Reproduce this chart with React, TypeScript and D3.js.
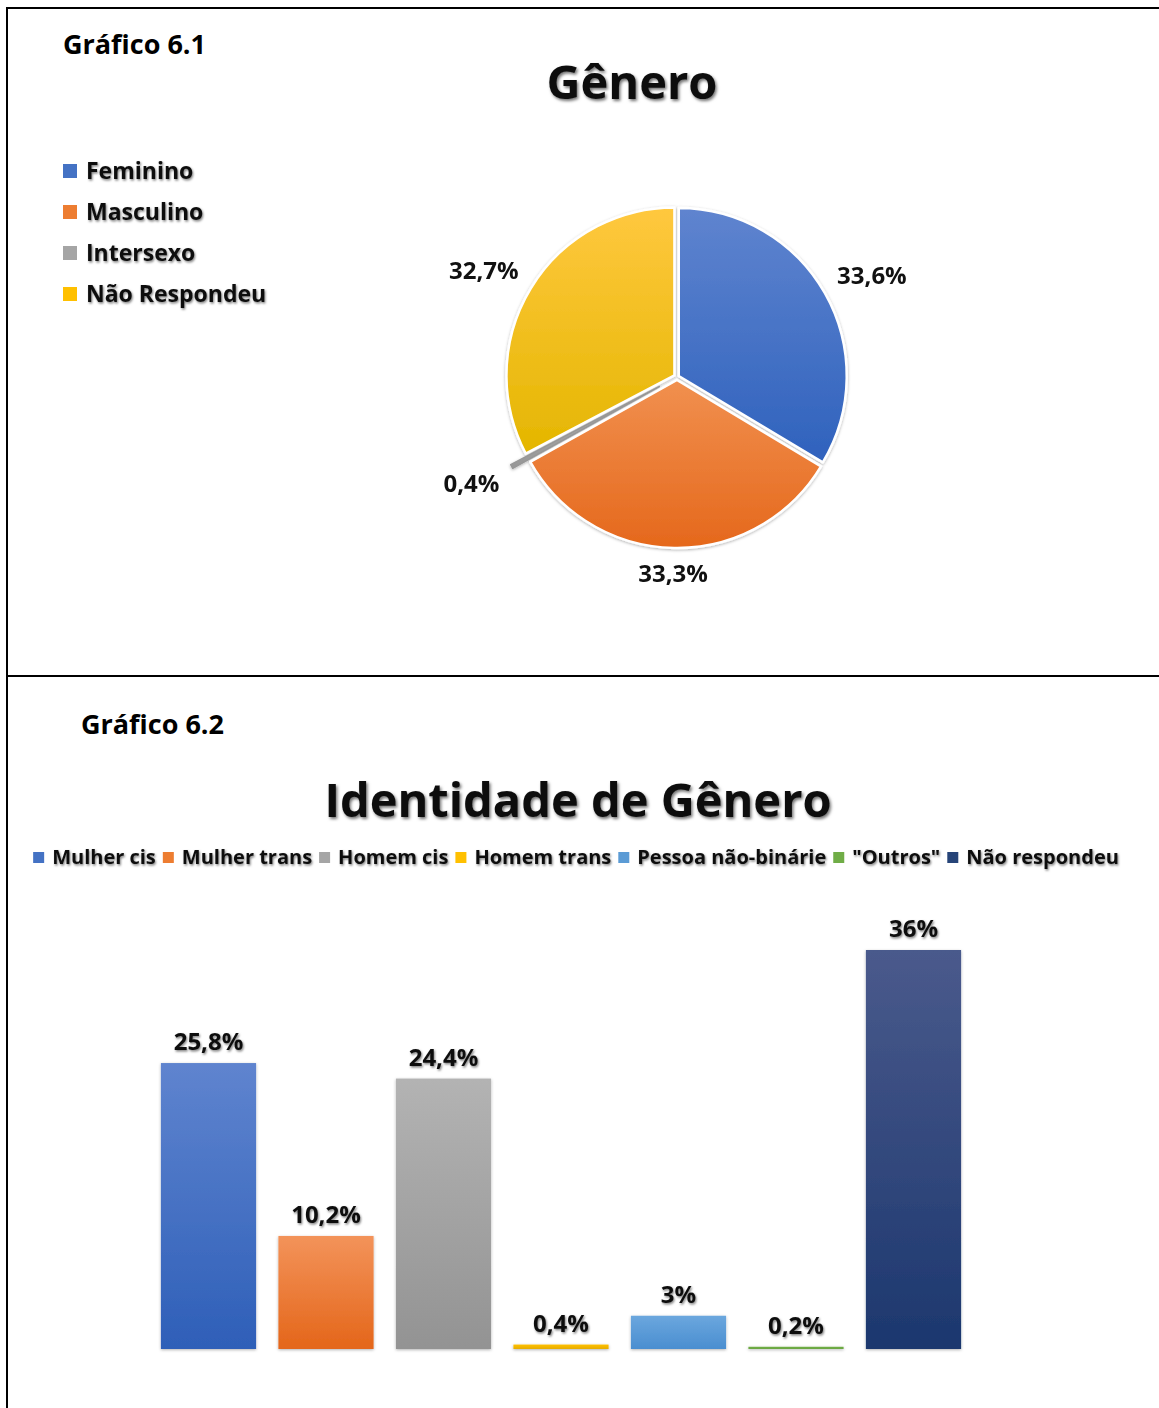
import React from "react";
import * as d3 from "d3";

const pieCategories = ["Feminino", "Masculino", "Intersexo", "Não Respondeu"];
const pieValues = [33.6, 33.3, 0.4, 32.7];
const pieLabels = ["33,6%", "33,3%", "0,4%", "32,7%"];
const pieColors = ["#4472c4", "#ed7d31", "#a5a5a5", "#ffc000"];
const pieGradTop = ["#5f84cf", "#f1904f", "#b0b0b0", "#ffc83f"];
const pieGradBottom = ["#2f62bd", "#e5681c", "#979797", "#e4b600"];
const pieExplode = [2, 3, 20, 3];

const barCategories = ["Mulher cis", "Mulher trans", "Homem cis", "Homem trans", "Pessoa não-binárie", "\"Outros\"", "Não respondeu"];
const barValues = [25.8, 10.2, 24.4, 0.4, 3, 0.2, 36];
const barLabels = ["25,8%", "10,2%", "24,4%", "0,4%", "3%", "0,2%", "36%"];
const barColors = ["#4472c4", "#ed7d31", "#a5a5a5", "#ffc000", "#5b9bd5", "#70ad47", "#264478"];
const barGradTop = ["#5f84cf", "#f3935a", "#b3b3b3", "#ffc000", "#6ba7de", "#70ad47", "#4a5a8c"];
const barGradBottom = ["#2e5fb8", "#e4661a", "#939393", "#e6ac00", "#4a8ed0", "#6aa641", "#1c376e"];

const FONT = "'Open Sans', sans-serif";

function measure(text: string, size: number): number {
  try {
    const ctx = document.createElement("canvas").getContext("2d");
    if (!ctx) return text.length * size * 0.6;
    ctx.font = `bold ${size}px 'Open Sans'`;
    return ctx.measureText(text).width;
  } catch (e) {
    return text.length * size * 0.6;
  }
}

export default function App() {
  const W = 1159, H = 1408;
  const cx = 677, cy = 377, R = 168;
  const pie = d3.pie<number>().sort(null).value((d) => d)(pieValues);
  const arc = d3.arc<d3.PieArcDatum<number>>().innerRadius(0).outerRadius(R);

  const x = d3.scaleBand<string>().domain(barCategories).range([149.75, 972.25]).paddingInner(0.19).paddingOuter(0.095);
  const y = d3.scaleLinear().domain([0, 36]).range([1349, 950]);

  // legend 2 layout, centered
  const LSZ = 20;
  const widths = barCategories.map((c) => measure(c, LSZ));
  const itemW = widths.map((w) => 19 + w);
  const gap = 7;
  const total = d3.sum(itemW) + gap * (itemW.length - 1);
  let acc = 576 - total / 2;
  const legendPos = itemW.map((w) => {
    const p = acc;
    acc += w + gap;
    return p;
  });

  const LBL = 24;

  return (
    <svg width={W} height={H} style={{ position: "absolute", left: 0, top: 0, display: "block", background: "#fff" }} fontFamily={FONT}>
      <defs>
        <filter id="txtShadow" x="-10%" y="-30%" width="130%" height="170%">
          <feDropShadow dx="1" dy="1.5" stdDeviation="1.2" floodColor="#000" floodOpacity="0.5" />
        </filter>
        <filter id="titleShadow" x="-10%" y="-30%" width="130%" height="170%">
          <feDropShadow dx="1.5" dy="2" stdDeviation="1.6" floodColor="#000" floodOpacity="0.55" />
        </filter>
        <filter id="shapeShadow" x="-20%" y="-20%" width="140%" height="140%">
          <feDropShadow dx="0" dy="1" stdDeviation="1.5" floodColor="#000" floodOpacity="0.3" />
        </filter>
        {pieColors.map((c, i) => (
          <linearGradient key={i} id={`pg${i}`} x1="0" y1="0" x2="0" y2="1">
            <stop offset="0" stopColor={pieGradTop[i]} />
            <stop offset="1" stopColor={pieGradBottom[i]} />
          </linearGradient>
        ))}
        {barColors.map((c, i) => (
          <linearGradient key={i} id={`bg${i}`} x1="0" y1="0" x2="0" y2="1">
            <stop offset="0" stopColor={barGradTop[i]} />
            <stop offset="1" stopColor={barGradBottom[i]} />
          </linearGradient>
        ))}
      </defs>

      {/* frame */}
      <line x1={6} y1={8} x2={W} y2={8} stroke="#000" strokeWidth={2} />
      <line x1={7} y1={7} x2={7} y2={H} stroke="#000" strokeWidth={2} />
      <line x1={7} y1={676} x2={W} y2={676} stroke="#000" strokeWidth={2} />

      {/* Chart 6.1 */}
      <text x={63} y={54} fontSize={27} fontWeight={700} fill="#000">Gráfico 6.1</text>
      <text x={632} y={99} fontSize={47} fontWeight={700} fill="#111" textAnchor="middle" filter="url(#titleShadow)">Gênero</text>

      {pieCategories.map((c, i) => (
        <g key={c}>
          <rect x={63} y={164 + i * 41} width={14} height={14} fill={pieColors[i]} />
          <text x={86} y={179 + i * 41} fontSize={23} fontWeight={700} fill="#111" filter="url(#txtShadow)">{c}</text>
        </g>
      ))}

      <g transform={`translate(${cx},${cy})`} filter="url(#shapeShadow)">
        {pie.map((p, i) => {
          const mid = (p.startAngle + p.endAngle) / 2;
          const dx = Math.sin(mid) * pieExplode[i];
          const dy = -Math.cos(mid) * pieExplode[i];
          return (
            <path key={i} d={arc(p) || ""} transform={`translate(${dx},${dy})`} fill={`url(#pg${i})`}
              stroke={pieValues[i] < 1 ? pieGradBottom[i] : "#fff"} strokeWidth={pieValues[i] < 1 ? 1.5 : 2.5} strokeLinejoin="round" />
          );
        })}
      </g>
      <g transform={`translate(${cx},${cy})`}>
        {pie.map((p, i) => {
          const mid = (p.startAngle + p.endAngle) / 2;
          const s = Math.sin(mid), c = Math.cos(mid);
          const halfW = measure(pieLabels[i], LBL) / 2;
          const halfH = 11;
          const rr = R + pieExplode[i] + 14;
          const px = s * rr + Math.sign(s) * halfW * Math.min(1, Math.abs(s) / 0.5);
          const py = -c * rr - Math.sign(c) * halfH * Math.min(1, Math.abs(c) / 0.5);
          return (
            <text key={i} x={px} y={py} dy="0.36em" textAnchor="middle" fontSize={LBL} fontWeight={700} fill="#111">{pieLabels[i]}</text>
          );
        })}
      </g>

      {/* Chart 6.2 */}
      <text x={81} y={734} fontSize={27} fontWeight={700} fill="#000">Gráfico 6.2</text>
      <text x={578} y={817} fontSize={47} fontWeight={700} fill="#111" textAnchor="middle" filter="url(#titleShadow)">Identidade de Gênero</text>

      {barCategories.map((c, i) => (
        <g key={c}>
          <rect x={legendPos[i]} y={852} width={11} height={11} fill={barColors[i]} />
          <text x={legendPos[i] + 19} y={864} fontSize={LSZ} fontWeight={700} fill="#111" filter="url(#txtShadow)">{c}</text>
        </g>
      ))}

      <g filter="url(#shapeShadow)">
        {barCategories.map((c, i) => (
          <rect key={c} x={x(c)} y={y(barValues[i])} width={x.bandwidth()} height={y(0) - y(barValues[i])} fill={`url(#bg${i})`} />
        ))}
      </g>
      {barCategories.map((c, i) => (
        <text key={c} x={(x(c) || 0) + x.bandwidth() / 2} y={y(barValues[i]) - 13} textAnchor="middle" fontSize={LBL} fontWeight={700} fill="#111" filter="url(#txtShadow)">{barLabels[i]}</text>
      ))}
    </svg>
  );
}
